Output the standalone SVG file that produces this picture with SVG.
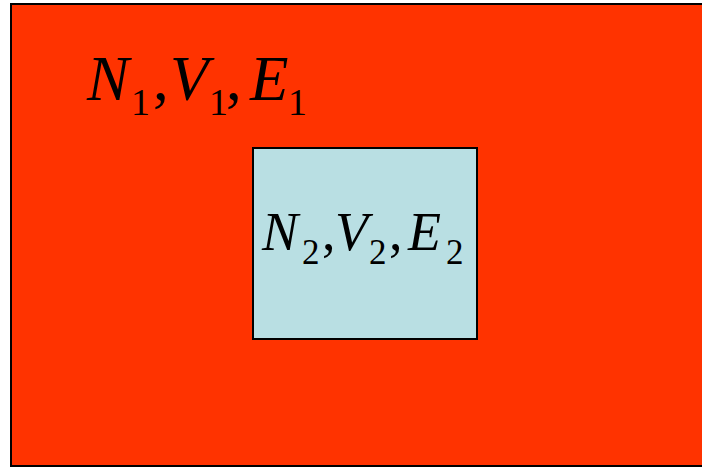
<svg xmlns="http://www.w3.org/2000/svg" width="702" height="468" viewBox="0 0 702 468">
<style>
text{font-family:'Liberation Serif','Times New Roman',serif;fill:#000}
.it{font-style:italic}
.big1{font-size:63px}
.sub1{font-size:38px}
.big2{font-size:54px}
.sub2{font-size:35px}
</style>
<rect width="702" height="468" fill="#ffffff"/>
<g id="outer">
<rect x="11" y="4" width="700" height="462" fill="#FF3300" stroke="#000" stroke-width="2"/>
<text class="it big1" x="87" y="100">N</text>
<text class="sub1" x="131" y="115">1</text>
<text class="big1" x="153" y="100">,</text>
<text class="it big1" x="170" y="100">V</text>
<text class="sub1" x="209" y="115">1</text>
<text class="big1" x="226" y="100">,</text>
<text class="it big1" x="250" y="100">E</text>
<text class="sub1" x="288" y="115">1</text>
</g>
<g id="inner">
<rect x="253" y="148" width="224" height="191" fill="#B9DFE3" stroke="#000" stroke-width="2"/>
<text class="it big2" x="262" y="250">N</text>
<text class="sub2" x="302" y="264">2</text>
<text class="big2" x="322" y="250">,</text>
<text class="it big2" x="335" y="250">V</text>
<text class="sub2" x="369" y="264">2</text>
<text class="big2" x="389" y="250">,</text>
<text class="it big2" x="408" y="250">E</text>
<text class="sub2" x="446" y="264">2</text>
</g>
</svg>
